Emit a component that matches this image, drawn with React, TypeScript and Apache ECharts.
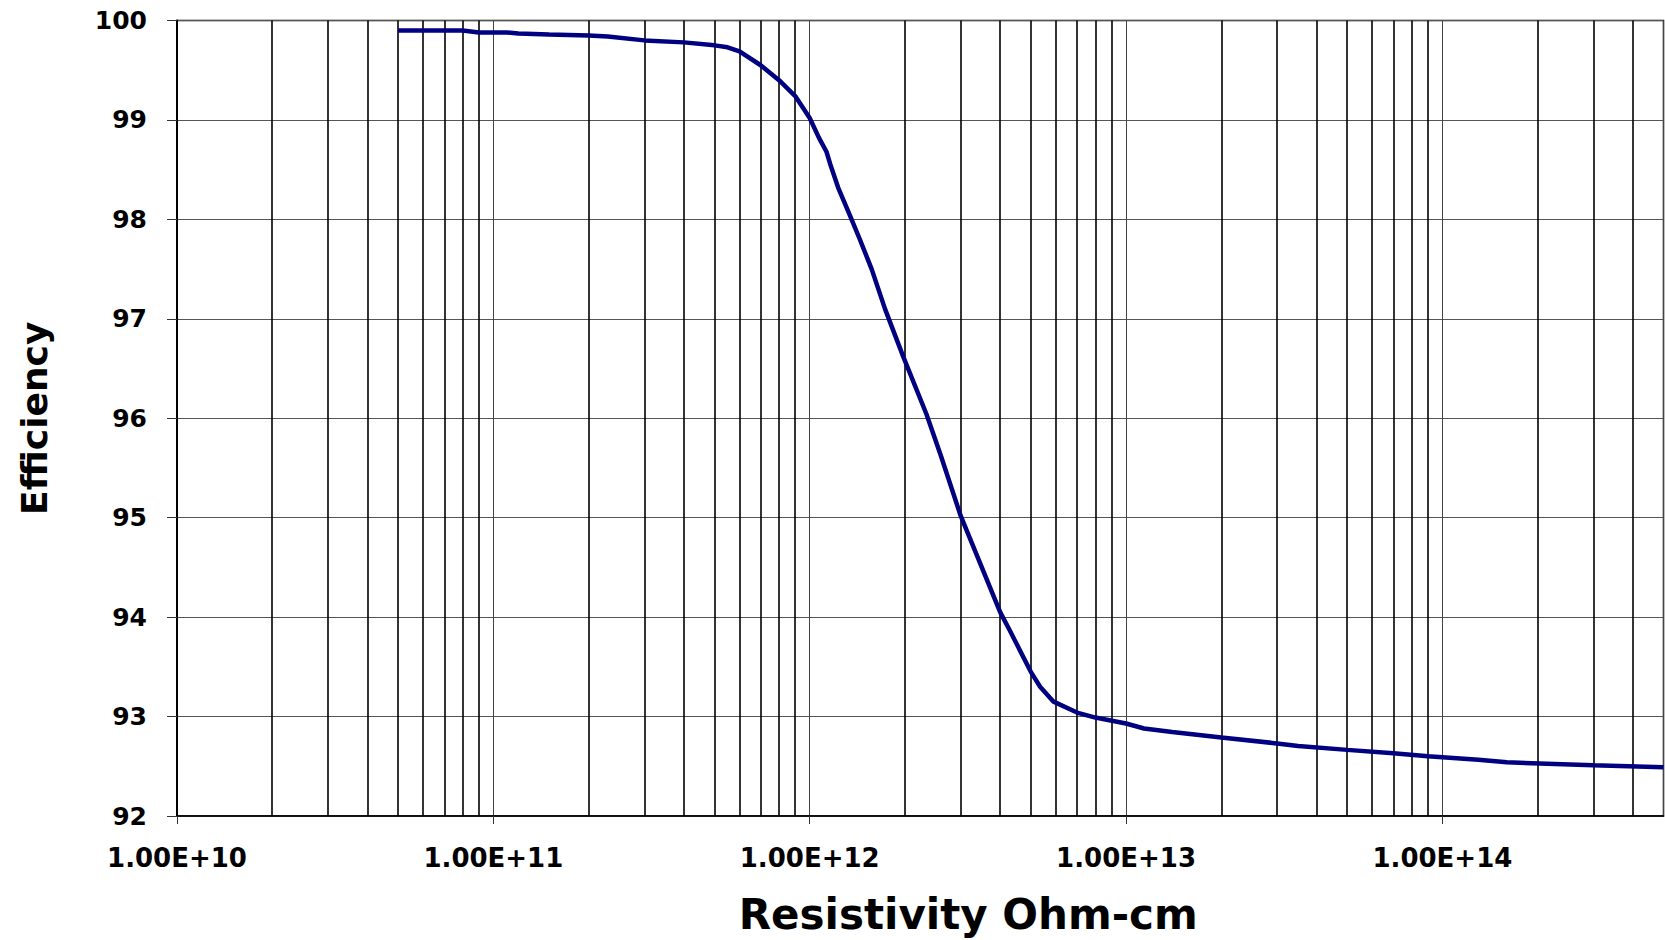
import React, { useEffect, useRef } from "react";
import * as echarts from "echarts";

// Resistivity (Ohm-cm) sample points
const resistivity = [
  5e10, 6e10, 7e10, 8e10, 9e10, 1.1e11, 1.2e11, 1.5e11, 2e11, 2.3e11, 3e11, 4e11,
  5e11, 5.5e11, 6e11, 7e11, 8e11, 9e11, 1e12, 1.07e12, 1.13e12, 1.16e12, 1.23e12,
  1.34e12, 1.44e12, 1.57e12, 1.73e12, 1.97e12, 2.34e12, 2.6e12, 3e12, 4e12, 4.3e12,
  5e12, 5.35e12, 5.9e12, 7e12, 8e12, 1e13, 1.14e13, 1.4e13, 2e13, 3e13, 3.5e13,
  5e13, 7e13, 9e13, 1.3e14, 1.6e14, 3e14, 5e14,
];
// Efficiency values (%) matching the resistivity points
const efficiency = [
  99.9, 99.9, 99.9, 99.9, 99.88, 99.88, 99.87, 99.86, 99.85, 99.84, 99.8, 99.78,
  99.75, 99.73, 99.69, 99.55, 99.4, 99.24, 99.02, 98.82, 98.68, 98.56, 98.32,
  98.04, 97.8, 97.5, 97.1, 96.63, 96.04, 95.62, 95.02, 94.05, 93.86,
  93.45, 93.3, 93.15, 93.04, 92.99, 92.93, 92.88, 92.845, 92.79, 92.73, 92.705,
  92.665, 92.63, 92.6, 92.565, 92.54, 92.51, 92.49,
];

// Decade tick labels (index = exponent - 10)
const xTickLabels = ["1.00E+10", "1.00E+11", "1.00E+12", "1.00E+13", "1.00E+14"];

// Minor (2..9 per decade) vertical grid positions
const minorGrid = [
  2e10, 3e10, 4e10, 5e10, 6e10, 7e10, 8e10, 9e10,
  2e11, 3e11, 4e11, 5e11, 6e11, 7e11, 8e11, 9e11,
  2e12, 3e12, 4e12, 5e12, 6e12, 7e12, 8e12, 9e12,
  2e13, 3e13, 4e13, 5e13, 6e13, 7e13, 8e13, 9e13,
  2e14, 3e14, 4e14,
];

const FONT = "DejaVu Sans";

export default function App() {
  const ref = useRef<HTMLDivElement>(null);

  useEffect(() => {
    if (!ref.current) return;
    const chart = echarts.init(ref.current, null, { renderer: "svg" });
    const data = resistivity.map((x, i) => [x, efficiency[i]]);

    chart.setOption({
      animation: false,
      backgroundColor: "#ffffff",
      textStyle: { fontFamily: FONT },
      grid: {
        left: 177,
        right: 1.5,
        top: 20.5,
        bottom: 118,
        show: true,
        borderColor: "#000",
        borderWidth: 1.5,
        containLabel: false,
      },
      xAxis: {
        type: "log",
        logBase: 10,
        min: 1e10,
        max: 5e14,
        name: "Resistivity Ohm-cm",
        nameLocation: "middle",
        nameGap: 77,
        nameTextStyle: {
          fontFamily: FONT,
          fontWeight: "bold",
          fontSize: 42,
          color: "#000",
          padding: [0, 0, 0, 96],
        },
        axisLine: { show: true, lineStyle: { color: "#000", width: 1.5 } },
        axisTick: { show: true, length: 8, lineStyle: { color: "#333", width: 1 } },
        axisLabel: {
          margin: 29,
          fontFamily: FONT,
          fontWeight: "bold",
          fontSize: 26,
          color: "#000",
          showMaxLabel: false,
          formatter: (v: number) => {
            const l = Math.log10(v);
            const e = Math.round(l);
            if (Math.abs(l - e) > 1e-6) return "";
            return xTickLabels[e - 10] ?? "";
          },
        },
        splitLine: { show: true, lineStyle: { color: "#444", width: 1 } },
        minorTick: { show: false },
      },
      yAxis: {
        type: "value",
        min: 92,
        max: 100,
        interval: 1,
        name: "Efficiency",
        nameLocation: "middle",
        nameRotate: 90,
        nameGap: 125,
        nameTextStyle: {
          fontFamily: FONT,
          fontWeight: "bold",
          fontSize: 36,
          color: "#000",
        },
        axisLine: { show: true, lineStyle: { color: "#000", width: 2 } },
        axisTick: { show: true, length: 10, lineStyle: { color: "#333", width: 1 } },
        axisLabel: {
          margin: 30,
          fontFamily: FONT,
          fontWeight: "bold",
          fontSize: 25,
          color: "#000",
        },
        splitLine: { show: true, lineStyle: { color: "#555", width: 1 } },
      },
      series: [
        {
          type: "line",
          data,
          symbol: "none",
          silent: true,
          z: 1,
          lineStyle: { opacity: 0 },
          markLine: {
            silent: true,
            symbol: ["none", "none"],
            label: { show: false },
            emphasis: { disabled: true },
            lineStyle: { color: "#000", width: 1.6, type: "solid" },
            data: minorGrid.map((v) => ({ xAxis: v })),
          },
        },
        {
          type: "line",
          data,
          symbol: "none",
          showSymbol: false,
          smooth: false,
          z: 5,
          lineStyle: { color: "#000080", width: 4.5 },
        },
      ],
    });

    return () => chart.dispose();
  }, []);

  return (
    <div
      ref={ref}
      style={{ position: "absolute", left: 0, top: 0, width: 1665, height: 940 }}
    />
  );
}
